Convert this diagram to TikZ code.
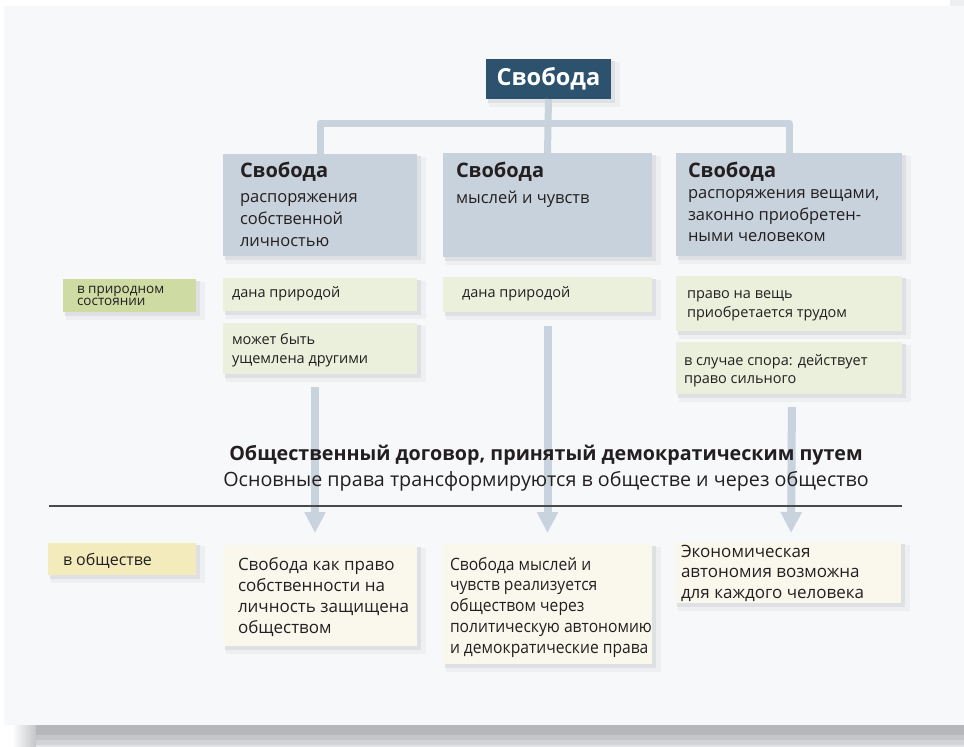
\documentclass[tikz,border=0pt]{standalone}
\usepackage{fontspec}
\setmainfont{Open Sans}
\newfontfamily\narrowfont{Open Sans}[FakeStretch=0.92]
\usetikzlibrary{backgrounds,arrows.meta,calc}
\definecolor{ink}{HTML}{231F20}
\definecolor{panel}{HTML}{F7F8FA}
\definecolor{connc}{HTML}{C8D3DD}
\definecolor{boxblue}{HTML}{C8D2DC}
\definecolor{topblue}{HTML}{2D526D}
\definecolor{labgreen}{HTML}{CEDCA3}
\definecolor{boxgreen}{HTML}{EAF0DC}
\definecolor{labyellow}{HTML}{F3EBBB}
\definecolor{boxcream}{HTML}{FAF8EC}
\definecolor{shadowA}{HTML}{DFE0E3}
\definecolor{shadowB}{HTML}{EEEFF1}
\definecolor{rulec}{HTML}{4A4A4A}
\definecolor{bandA}{HTML}{B6B7BA}
\definecolor{bandB}{HTML}{C4C5C8}
\definecolor{bandC}{HTML}{D2D3D6}
\definecolor{bandD}{HTML}{E2E3E6}
\newcommand\setfs[2]{\fontsize{#1}{#2}\selectfont}
\newcommand\boxshadow[1]{%
  \fill[shadowB] ($(#1.north west)+(3,3)$) rectangle ($(#1.south east)+(9,8)$);
  \fill[shadowA] ($(#1.north west)+(2,2)$) rectangle ($(#1.south east)+(4,4)$);
}
\tikzset{
  box/.style={draw=none, anchor=north west, inner sep=0pt, outer sep=0pt},
  bluebox/.style={box, fill=boxblue},
  greenbox/.style={box, fill=boxgreen},
  labgbox/.style={box, fill=labgreen},
  labybox/.style={box, fill=labyellow},
  creambox/.style={box, fill=boxcream},
  txt/.style={anchor=north west, inner sep=0pt, outer sep=0pt, align=left, text=ink},
  conn/.style={draw=connc, line width=7pt, line join=round},
  downarrow/.style={draw=connc, line width=8pt, -{Triangle[width=20pt,length=21pt]}},
  rulestyle/.style={draw=rulec, line width=2pt},
}
\begin{document}
\begin{tikzpicture}[x=1pt,y=-1pt]
\useasboundingbox (0,0) rectangle (964,747);
\begin{scope}[on background layer]
  \fill[white] (0,0) rectangle (964,747);
  \fill[panel] (4,6) rectangle (964,725);
  \fill[shadowB] (950,0) rectangle (964,6);
  \fill[bandA] (36,725) rectangle (964,735);
  \fill[bandB] (36,735) rectangle (964,740);
  \fill[bandC] (36,740) rectangle (964,745);
  \fill[bandD] (36,745) rectangle (964,747);
  \shade[left color=white, right color=bandB] (12,725) rectangle (36,747);
\end{scope}

% top node
\node[box, fill=topblue, minimum width=125, minimum height=40, text=white,
      font=\bfseries\setfs{23.5}{26}] (top) at (486,59) {Свобода};

% main boxes
\node[bluebox, minimum width=194, minimum height=102] (b1) at (223,154) {};
\node[bluebox, minimum width=209, minimum height=104] (b2) at (443,153) {};
\node[bluebox, minimum width=226, minimum height=103] (b3) at (676,153) {};

% natural state row
\node[labgbox, minimum width=133, minimum height=33] (lab1) at (63,279) {};
\node[greenbox, minimum width=194, minimum height=33] (g1a) at (223,278) {};
\node[greenbox, minimum width=194, minimum height=51] (g1b) at (223,323) {};
\node[greenbox, minimum width=209, minimum height=35] (g2) at (443,277) {};
\node[greenbox, minimum width=226, minimum height=55] (g3a) at (676,276) {};
\node[greenbox, minimum width=226, minimum height=52] (g3b) at (676,342) {};

% society row
\node[labybox, minimum width=148, minimum height=32] (lab2) at (48,543) {};
\node[creambox, minimum width=194, minimum height=101] (c1) at (223,545) {};
\node[creambox, minimum width=209, minimum height=120] (c2) at (443,544) {};
\node[creambox, minimum width=226, minimum height=61] (c3) at (675,542) {};

\begin{scope}[on background layer]
  \foreach \n in {top,b1,b2,b3,lab1,g1a,g1b,g2,g3a,g3b,lab2,c1,c2,c3} {\boxshadow{\n}}
\end{scope}

% tree connectors
\coordinate (bar) at (0,123);
\draw[conn] (top.south) -- (b2.north);
\draw[conn] (b1.north) -- (b1.north |- bar) -- (b3.north |- bar) -- (b3.north);

% down arrows
\draw[downarrow, shorten <=13pt, shorten >=12pt] ([xshift=-5pt]g1b.south) -- ([xshift=-5pt]c1.north);
\draw[downarrow, shorten <=14pt, shorten >=11pt] (g2.south) -- (c2.north);
\draw[downarrow, shorten <=13pt, shorten >=9pt] ([xshift=3pt]g3b.south) -- ([xshift=3pt]c3.north);

% divider line
\coordinate (hl) at (49,506);
\coordinate (hr) at (902,506);
\draw[rulestyle] (hl) -- (hr);

% texts
\node[txt, font=\setfs{16.5}{22}] (b1t) at (240,161)
  {\rule{0pt}{16pt}{\bfseries\setfs{20}{22}Свобода}\\[3pt]распоряжения\\собственной\\личностью};
\node[txt, font=\setfs{16.5}{22}] (b2t) at (456,161)
  {\rule{0pt}{16pt}{\bfseries\setfs{20}{22}Свобода}\\[4pt]мыслей и чувств};
\node[txt, font=\setfs{16.5}{21.5}] (b3t) at (688,161)
  {\rule{0pt}{16pt}{\bfseries\setfs{20}{21.5}Свобода}\\распоряжения вещами,\\законно приобретен-\\ными человеком};

\node[txt, font=\setfs{13.5}{12}] (lab1t) at (77,282) {\rule{0pt}{11pt}в природном\\состоянии};
\node[txt, font=\setfs{14.5}{19}] (g1at) at (232,285) {\rule{0pt}{12pt}дана природой};
\node[txt, font=\setfs{14.5}{19}] (g1bt) at (232,332) {\rule{0pt}{12pt}может быть\\ущемлена другими};
\node[txt, font=\setfs{14.5}{19}] (g2t) at (462,285) {\rule{0pt}{12pt}дана природой};
\node[txt, font=\setfs{14.5}{19}] (g3at) at (687,286) {\rule{0pt}{12pt}право на вещь\\приобретается трудом};
\node[txt, font=\setfs{14.5}{18}] (g3bt) at (684,353) {\rule{0pt}{12pt}в случае спора: действует\\право сильного};

\node[anchor=base, inner sep=0pt, text=ink, font=\bfseries\setfs{19.7}{24}] (contract) at (546,460)
  {Общественный договор, принятый демократическим путем};
\node[anchor=base, inner sep=0pt, text=ink, font=\setfs{19.7}{24}] (contract2) at (546,486)
  {Основные права трансформируются в обществе и через общество};

\node[txt, font=\setfs{16}{20}] (lab2t) at (63,552) {\rule{0pt}{13pt}в обществе};
\node[txt, font=\setfs{17}{21}] (c1t) at (238,556)
  {\rule{0pt}{14pt}Свобода как право\\собственности на\\личность защищена\\обществом};
\node[txt, font=\narrowfont\setfs{17}{20.8}] (c2t) at (450,556)
  {\rule{0pt}{14pt}Свобода мыслей и\\чувств реализуется\\обществом через\\политическую автономию\\и демократические права};
\node[txt, font=\setfs{17}{20.5}] (c3t) at (681,543)
  {\rule{0pt}{14pt}Экономическая\\автономия возможна\\для каждого человека};
\end{tikzpicture}
\end{document}
